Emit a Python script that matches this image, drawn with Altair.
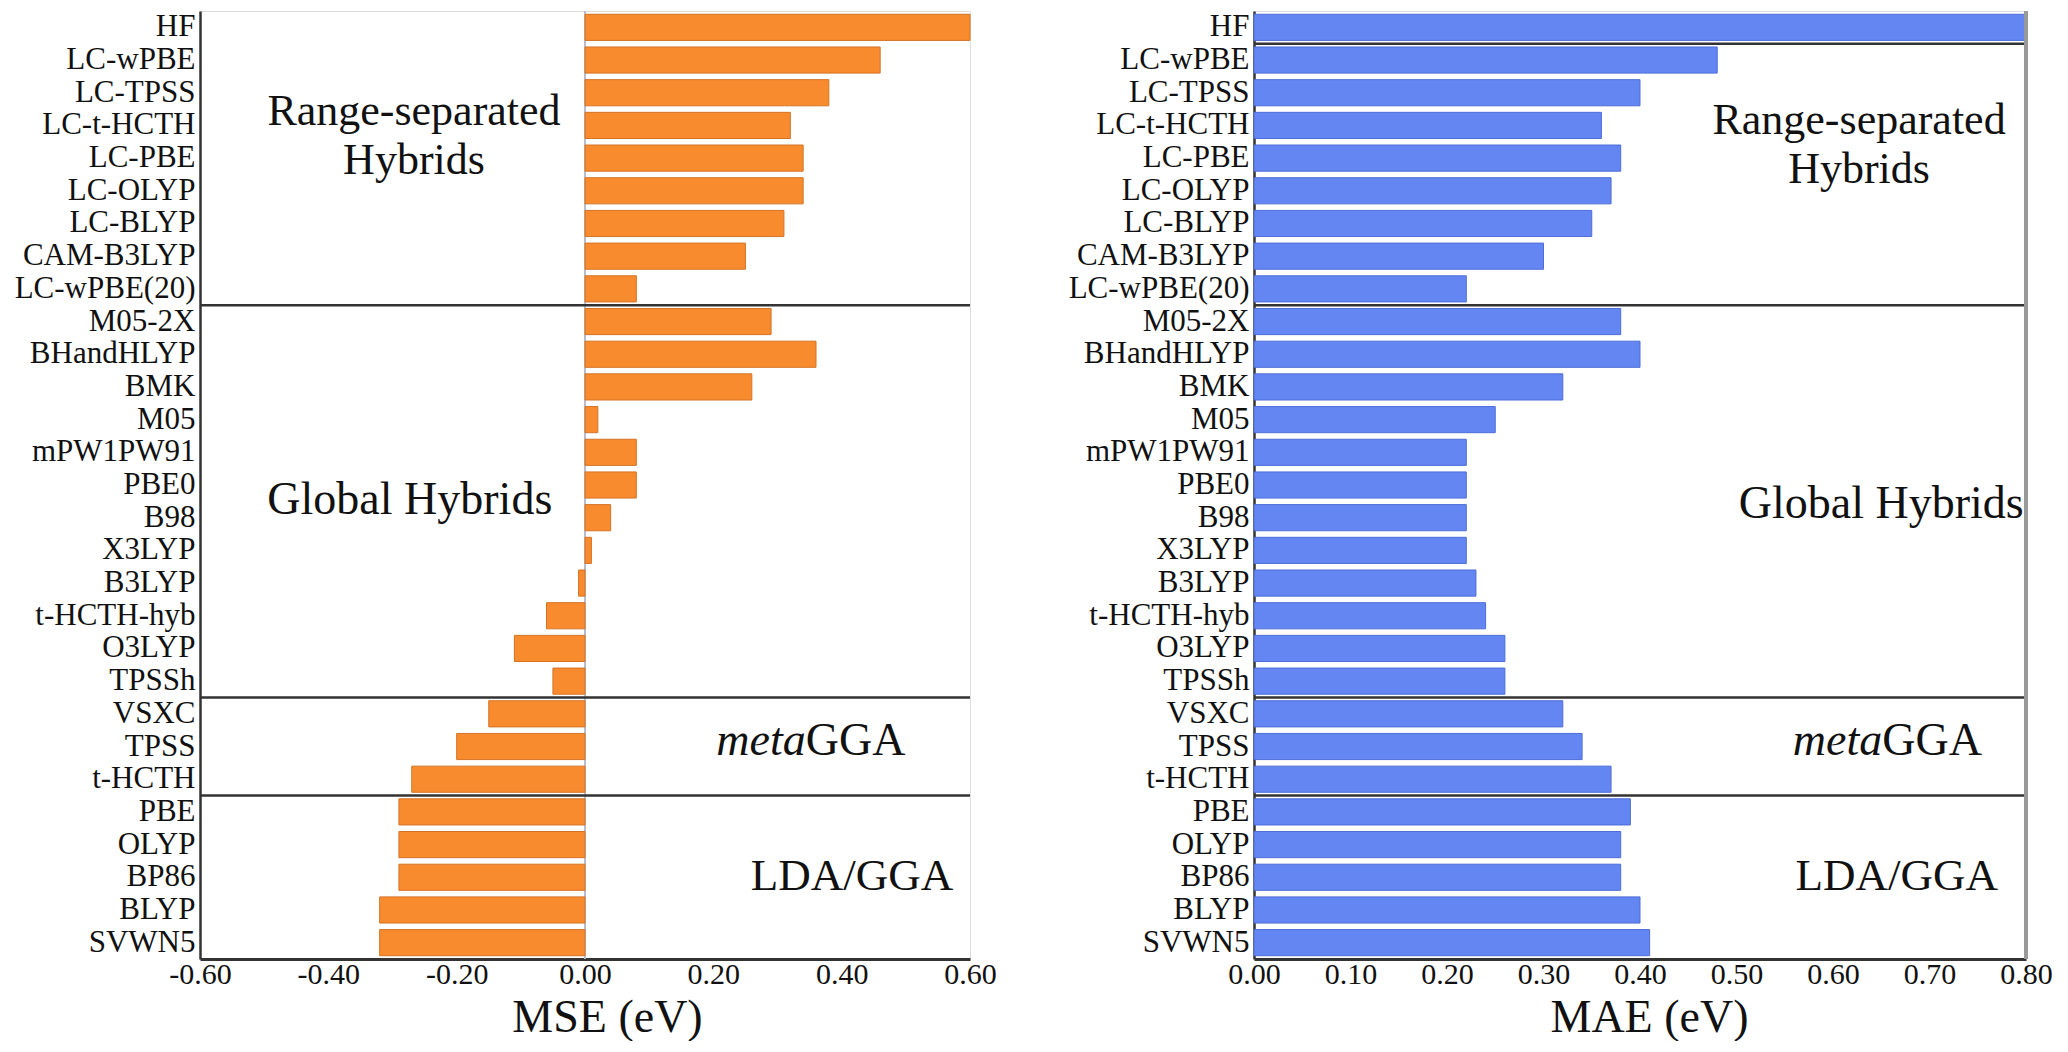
import altair as alt
import pandas as pd

methods = ["HF", "LC-wPBE", "LC-TPSS", "LC-t-HCTH", "LC-PBE", "LC-OLYP", "LC-BLYP", "CAM-B3LYP", "LC-wPBE(20)",
           "M05-2X", "BHandHLYP", "BMK", "M05", "mPW1PW91", "PBE0", "B98", "X3LYP", "B3LYP", "t-HCTH-hyb",
           "O3LYP", "TPSSh", "VSXC", "TPSS", "t-HCTH", "PBE", "OLYP", "BP86", "BLYP", "SVWN5"]
mse = [0.60, 0.46, 0.38, 0.32, 0.34, 0.34, 0.31, 0.25, 0.08,
       0.29, 0.36, 0.26, 0.02, 0.08, 0.08, 0.04, 0.01, -0.01, -0.06,
       -0.11, -0.05, -0.15, -0.20, -0.27, -0.29, -0.29, -0.29, -0.32, -0.32]
mae = [0.80, 0.48, 0.40, 0.36, 0.38, 0.37, 0.35, 0.30, 0.22,
       0.38, 0.40, 0.32, 0.25, 0.22, 0.22, 0.22, 0.22, 0.23, 0.24,
       0.26, 0.26, 0.32, 0.34, 0.37, 0.39, 0.38, 0.38, 0.40, 0.41]

mse_ticks = [-0.6, -0.4, -0.2, 0.0, 0.2, 0.4, 0.6]
mae_ticks = [0.0, 0.1, 0.2, 0.3, 0.4, 0.5, 0.6, 0.7, 0.8]

left_separators = ["M05-2X", "VSXC", "PBE"]
right_separators = ["LC-wPBE", "M05-2X", "VSXC", "PBE"]

# annotations: text, x value, category anchor, vertical nudge (px)
notes_size = [44, 46, 45]
left_notes_text = ["Range-separated\nHybrids", "Global Hybrids", "LDA/GGA"]
left_notes_x = [-0.2665, -0.273, 0.416]
left_notes_cat = ["LC-t-HCTH", "B98", "BP86"]
left_notes_dy = [0, -4, 13]
left_meta_x = 0.344

right_notes_text = ["Range-separated\nHybrids", "Global Hybrids", "LDA/GGA"]
right_notes_x = [0.627, 0.650, 0.666]
right_notes_cat = ["LC-t-HCTH", "B98", "BP86"]
right_notes_dy = [9, 0, 13]
right_meta_x = 0.651
meta_cat = "TPSS"
meta_dy = 8

FONT = "Liberation Serif"
PLOT_H = 948
STEP = PLOT_H / len(methods)

df = pd.DataFrame({"name": methods, "mse": mse, "mae": mae})

yenc = alt.Y("name:N", sort=methods,
             scale=alt.Scale(paddingInner=0.2, paddingOuter=0.1),
             axis=alt.Axis(title=None, ticks=False, labelFont=FONT, labelFontSize=31,
                           labelLimit=300, labelColor="#111", labelPadding=5,
                           domainColor="#333", domainWidth=2.5))

minus_fix = "replace(format(datum.value, '.2f'), '\u2212', '-')"


def xenc(field, domain, ticks, title, title_x):
    return alt.X(f"{field}:Q",
                 scale=alt.Scale(domain=domain, nice=False, zero=False),
                 axis=alt.Axis(values=ticks, labelExpr=minus_fix, title=title, grid=False,
                               ticks=False, labelFlush=False, labelFont=FONT, labelFontSize=30,
                               labelColor="#111", labelPadding=0, domainColor="#333",
                               domainWidth=3, titleFont=FONT, titleFontSize=46,
                               titleFontWeight="normal", titleColor="#111", titleX=title_x,
                               titleY=72, titleBaseline="alphabetic", titleAlign="center"))


def panel(field, values_domain, ticks, title, title_x, color, stroke, seps,
          notes_text, notes_x, notes_cat, notes_dy, meta_x, width, zero_line, right_edge):
    xd = xenc(field, values_domain, ticks, title, title_x)
    layers = []
    if zero_line:
        layers.append(alt.Chart(df).mark_rule(color="#b8bccc", strokeWidth=1.5)
                      .encode(x=alt.datum(0)))
    layers.append(alt.Chart(df).mark_bar(color=color, stroke=stroke, strokeWidth=1)
                  .encode(x=xd, y=yenc))
    sep_df = pd.DataFrame({"name": seps})
    layers.append(alt.Chart(sep_df).mark_rule(color="#333", strokeWidth=2.5, yOffset=-STEP / 2)
                  .encode(y=yenc, x=alt.datum(values_domain[0]), x2=alt.datum(values_domain[1])))
    for t, xv, c, dy, fs in zip(notes_text, notes_x, notes_cat, notes_dy, notes_size):
        ndf = pd.DataFrame({"name": [c], field: [xv], "t": [t]})
        layers.append(alt.Chart(ndf).mark_text(font=FONT, fontSize=fs, color="#111",
                                               baseline="alphabetic", align="center", dy=dy,
                                               lineBreak="\n", lineHeight=49)
                      .encode(x=xd, y=yenc, text="t:N"))
    mdf = pd.DataFrame({"name": [meta_cat], field: [meta_x], "a": ["meta"], "b": ["GGA"]})
    layers.append(alt.Chart(mdf).mark_text(font=FONT, fontSize=46, color="#111", fontStyle="italic",
                                           baseline="alphabetic", align="right", dy=meta_dy)
                  .encode(x=xd, y=yenc, text="a:N"))
    layers.append(alt.Chart(mdf).mark_text(font=FONT, fontSize=46, color="#111",
                                           baseline="alphabetic", align="left", dy=meta_dy)
                  .encode(x=xd, y=yenc, text="b:N"))
    if right_edge:
        layers.append(alt.Chart(df).mark_rule(color="#9a9a9a", strokeWidth=3)
                      .encode(x=alt.datum(values_domain[1])))
    return alt.layer(*layers).properties(width=width, height=PLOT_H)


left = panel("mse", [-0.6, 0.6], mse_ticks, "MSE (eV)", 407, "#F98B2F", "#D47325",
             left_separators, left_notes_text, left_notes_x, left_notes_cat, left_notes_dy,
             left_meta_x, 770, True, False)
right = panel("mae", [0.0, 0.8], mae_ticks, "MAE (eV)", 395, "#6386F3", "#4E6DD6",
              right_separators, right_notes_text, right_notes_x, right_notes_cat, right_notes_dy,
              right_meta_x, 772, False, True)

chart = (alt.hconcat(left, right, spacing=284)
         .properties(bounds="flush", padding={"left": 5, "top": 1, "right": 0, "bottom": 0})
         .configure_view(stroke="#4a4a4a", strokeWidth=3)
         .configure(background="white"))

chart.save("out.html", embed_options={"renderer": "svg", "actions": False})
